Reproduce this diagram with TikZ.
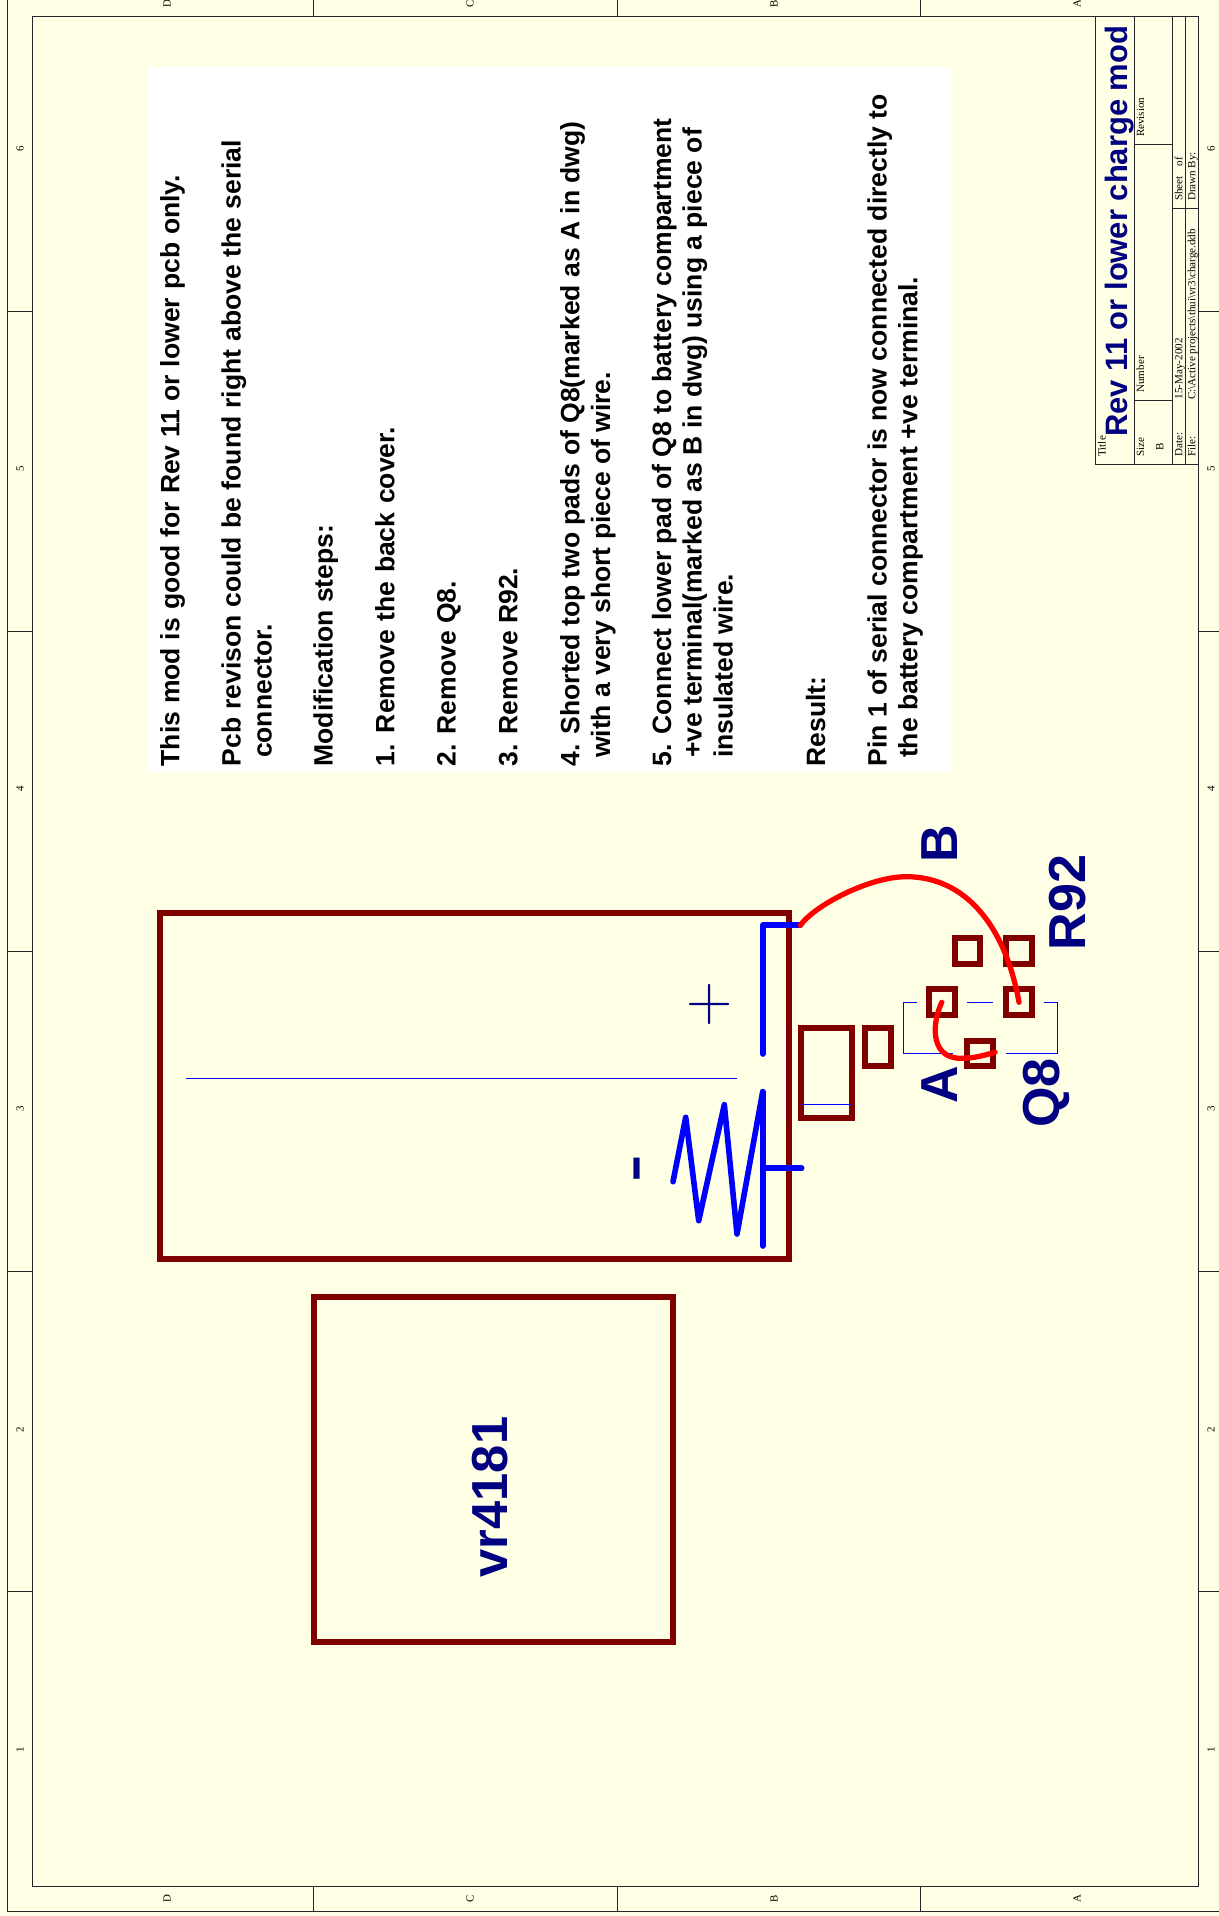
\documentclass[tikz,border=0pt]{standalone}
\usepackage{fontspec}
\usepackage{color}
\newfontfamily\notefont{Liberation Sans}
\newfontfamily\sheetfont{Liberation Serif}
\definecolor{sheetbg}{HTML}{FFFFE6}
\definecolor{partred}{HTML}{800000}
\definecolor{wireblue}{HTML}{0000FF}
\definecolor{labelnavy}{HTML}{000080}
\tikzset{
  note/.style={rotate=90,anchor=base west,inner sep=0pt,font=\notefont\bfseries\fontsize{7.54}{9}\selectfont,text=black},
  bigtext/.style={rotate=90,anchor=base west,inner sep=0pt,font=\notefont\bfseries\fontsize{14.8}{17}\selectfont,text=labelnavy},
  small/.style={rotate=90,anchor=base west,inner sep=0pt,font=\sheetfont\fontsize{3.15}{4}\selectfont,text=black},
  zone/.style={rotate=90,inner sep=0pt,font=\sheetfont\fontsize{3.1}{4}\selectfont,text=black},
  frame/.style={draw=black!85,line width=.25pt},
  partbox/.style={draw=partred,line width=1.7pt,inner sep=0pt},
  padbox/.style={partbox,minimum size=.257cm},
  plate/.style={draw=wireblue,line width=1.6pt,line cap=round,line join=round},
  thinline/.style={draw=wireblue,line width=.3pt},
  jumper/.style={draw=red,line width=1.5pt,line cap=round,line join=round}
}
\begin{document}
\begin{tikzpicture}[x=.01cm,y=-.01cm]
\useasboundingbox (0,0) rectangle (1219,1916);
\clip (0,0) rectangle (1219,1916);
\fill[sheetbg] (0,0) rectangle (1219,1916);
\draw[frame] (7,-8.3) rectangle (1223.5,1911.7);
\draw[frame] (32.5,16) rectangle (1198,1886);
\draw[frame] (313,-8.3) -- (313,16);
\draw[frame] (617,-8.3) -- (617,16);
\draw[frame] (920,-8.3) -- (920,16);
\draw[frame] (313,1886) -- (313,1911.7);
\draw[frame] (617,1886) -- (617,1911.7);
\draw[frame] (920,1886) -- (920,1911.7);
\draw[frame] (7,311) -- (32.5,311);
\draw[frame] (7,631) -- (32.5,631);
\draw[frame] (7,951) -- (32.5,951);
\draw[frame] (7,1271) -- (32.5,1271);
\draw[frame] (7,1591) -- (32.5,1591);
\draw[frame] (1198,311) -- (1223.5,311);
\draw[frame] (1198,631) -- (1223.5,631);
\draw[frame] (1198,951) -- (1223.5,951);
\draw[frame] (1198,1271) -- (1223.5,1271);
\draw[frame] (1198,1591) -- (1223.5,1591);
\draw (167,3.6) node[zone] (topd) {D};
\draw (470,3.6) node[zone] (topc) {C};
\draw (774,3.6) node[zone] (topb) {B};
\draw (1077,3.6) node[zone] (topa) {A};
\draw (167,1899) node[zone] (botd) {D};
\draw (470,1899) node[zone] (botc) {C};
\draw (774,1899) node[zone] (botb) {B};
\draw (1077,1899) node[zone] (bota) {A};
\draw (20,149) node[zone] (left6) {6};
\draw (20,469) node[zone] (left5) {5};
\draw (20,789) node[zone] (left4) {4};
\draw (20,1109) node[zone] (left3) {3};
\draw (20,1430) node[zone] (left2) {2};
\draw (20,1750) node[zone] (left1) {1};
\draw (1211,149) node[zone] (right6) {6};
\draw (1211,469) node[zone] (right5) {5};
\draw (1211,789) node[zone] (right4) {4};
\draw (1211,1109) node[zone] (right3) {3};
\draw (1211,1430) node[zone] (right2) {2};
\draw (1211,1750) node[zone] (right1) {1};
\fill[white] (147.5,67) rectangle (952,772);
\draw (179.3,767) node[note] (line1) {\spaceskip=2.25pt This mod is good for Rev 11 or lower pcb only.};
\draw (240.7,767) node[note] (line2) {\spaceskip=2.25pt Pcb revison could be found right above the serial};
\draw (271.7,758.7) node[note] (line3) {connector.};
\draw (332.7,767) node[note] (line4) {Modification steps:};
\draw (394.3,767) node[note] (line5) {\spaceskip=2.45pt 1. Remove the back cover.};
\draw (455.7,767) node[note] (line6) {2. Remove Q8.};
\draw (517.3,767) node[note] (line7) {3. Remove R92.};
\draw (579.3,767) node[note] (line8) {4. Shorted top two pads of Q8(marked as A in dwg)};
\draw (610,758.7) node[note] (line9) {with a very short piece of wire.};
\draw (671,767) node[note] (line10) {5. Connect lower pad of Q8 to battery compartment};
\draw (701.7,758.7) node[note] (line11) {+ve terminal(marked as B in dwg) using a piece of};
\draw (732.7,758.7) node[note] (line12) {insulated wire.};
\draw (825,767) node[note] (line13) {Result:};
\draw (886.7,767) node[note] (line14) {Pin 1 of serial connector is now connected directly to};
\draw (917.3,758.7) node[note] (line15) {the battery compartment +ve terminal.};
\draw (493.5,1469.5) node[partbox,minimum width=3.59cm,minimum height=3.45cm] (cpubox) {};
\draw (507.5,1578) node[bigtext,font=\notefont\bfseries\fontsize{14.4}{17}\selectfont] (cputext) {vr4181};
\draw (474.6,1086) node[partbox,minimum width=6.28cm,minimum height=3.46cm] (battbox) {};
\coordinate (plusend) at (800.3,925.3);
\coordinate (pluscorner) at (762.7,925.3);
\coordinate (plusfoot) at (762.7,1054);
\coordinate (minustop) at (762.7,1091.7);
\coordinate (minusfoot) at (762.7,1246);
\coordinate (minusstub) at (762.7,1168.3);
\coordinate (minusend) at (801.7,1168.3);
\draw[plate] (plusend) -- (pluscorner) -- (plusfoot);
\draw[plate] (minustop) -- (minusfoot);
\draw[plate] (minusstub) -- (minusend);
\draw[plate] (673,1181.7) -- (685.7,1117.3) -- (698.7,1220.7) -- (724.3,1104.7) -- (737,1234) -- (minustop);
\draw[thinline] (186,1078.7) -- (737.3,1078.7);
\draw (710,1004.7) node[rotate=90,inner sep=0pt,font=\fontsize{18.2}{20}\selectfont,text=labelnavy] (plussign) {+};
\draw (642,1168.7) node[rotate=90,inner sep=0pt,font=\notefont\bfseries\fontsize{14.8}{17}\selectfont,text=labelnavy] (minussign) {\scalebox{1.6}[1]{-}};
\draw (826.8,1072.8) node[partbox,minimum width=.51cm,minimum height=.897cm] (capbig) {};
\draw (878,1047.2) node[partbox,minimum width=.26cm,minimum height=.38cm] (capsmall) {};
\draw[thinline] (801,1104.7) -- (852.3,1104.7);
\draw (967.5,951) node[padbox] (rleft) {};
\draw (1019,951) node[padbox] (rright) {};
\draw (941.8,1002.3) node[padbox] (qleft) {};
\draw (1019,1002.3) node[padbox] (qright) {};
\draw (980.2,1053.5) node[padbox] (qlow) {};
\draw[thinline] (916.7,1002.3) -- (903.3,1002.3) -- (903.3,1053.7) -- (953,1053.7);
\draw[thinline] (1005.7,1053.7) -- (1057.3,1053.7) -- (1057.3,1002.3) -- (1044.3,1002.3);
\draw[thinline] (967,1002.3) -- (993.3,1002.3);
\coordinate (shortend) at (995,1052.3);
\draw[jumper] (plusend) .. controls (815,905) and (870,876.5) .. (906.7,876.7) .. controls (965,877) and (1005,925) .. (qright.center);
\draw[jumper] (qleft.center) .. controls (931,1025) and (930,1062) .. (966,1058) .. controls (975,1058) and (985,1055) .. (shortend);
\draw (957,863) node[bigtext] (markb) {B};
\draw (957,1104) node[bigtext] (marka) {A};
\draw (1085,951) node[bigtext] (r92text) {R92};
\draw (1059.5,1128.3) node[bigtext] (q8text) {Q8};
\draw[frame] (1095.7,16) rectangle (1198,464);
\draw[frame] (1134.3,16) -- (1134.3,464);
\draw[frame] (1172.3,16) -- (1172.3,464);
\draw[frame] (1185.3,16) -- (1185.3,464);
\draw[frame] (1134.3,144.3) -- (1172.3,144.3);
\draw[frame] (1134.3,400.3) -- (1172.3,400.3);
\draw[frame] (1172.3,208.3) -- (1198,208.3);
\draw (1127.3,437.5) node[rotate=90,anchor=base west,inner sep=0pt,font=\notefont\bfseries\fontsize{8.8}{11}\selectfont,text=labelnavy] (titletext) {Rev 11 or lower charge mod};
\draw (1105.7,457.3) node[small] (titlelab) {Title};
\draw (1144,457.3) node[small] (sizelab) {Size};
\draw (1163.3,451.7) node[small] (sizeval) {B};
\draw (1144,393.3) node[small] (numlab) {Number};
\draw (1144,137.7) node[small] (revlab) {Revision};
\draw (1182.3,457.3) node[small] (datelab) {Date:};
\draw (1182.3,400) node[small] (dateval) {15-May-2002};
\draw (1195.3,457.3) node[small] (filelab) {File:};
\draw (1195.3,400.7) node[small] (fileval) {C:\textbackslash Active projects\textbackslash thui\textbackslash vr3\textbackslash charge.ddb};
\draw (1182.3,201.7) node[small] (sheetlab) {Sheet\hspace{.1cm}of};
\draw (1195.3,201.7) node[small] (drawnlab) {Drawn By:};
\end{tikzpicture}
\end{document}
